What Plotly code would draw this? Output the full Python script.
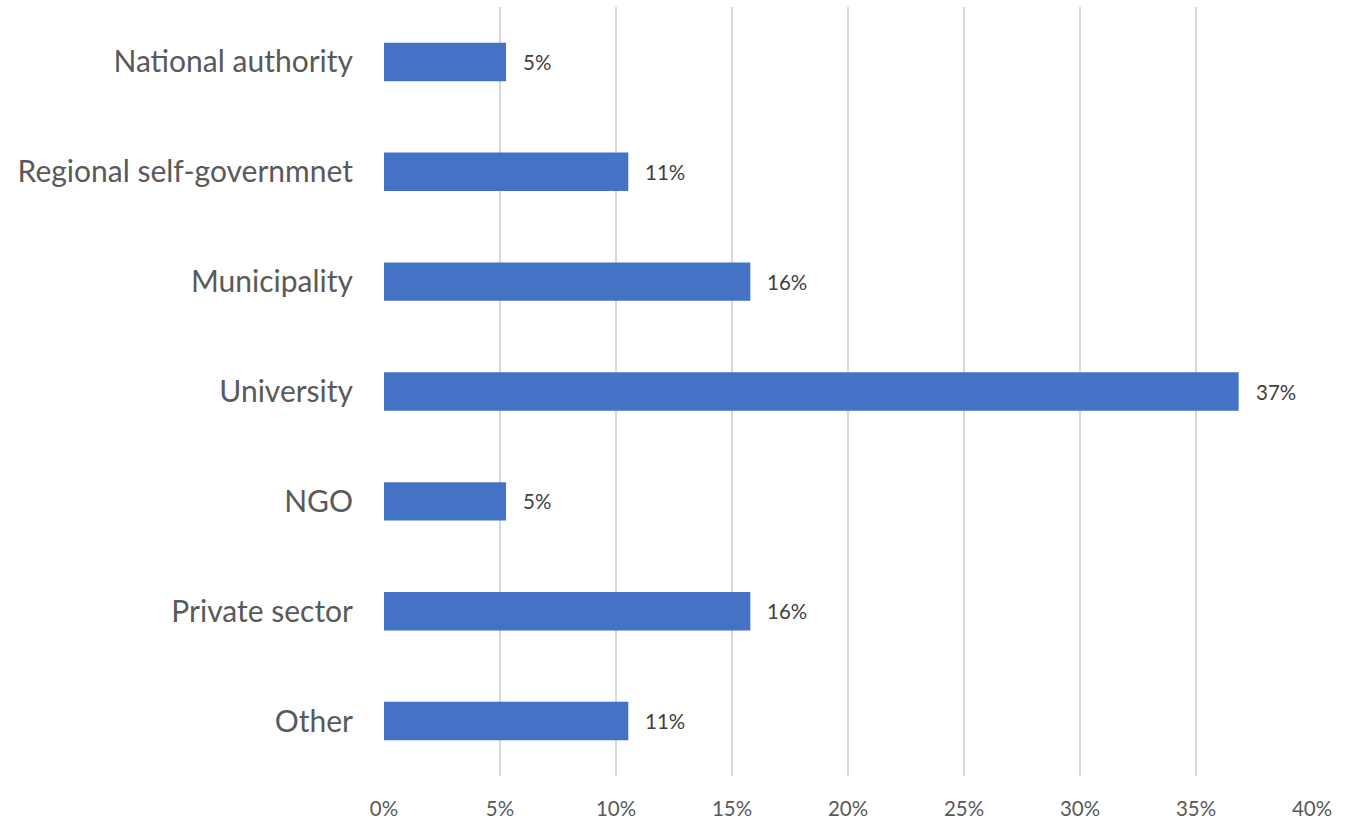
import plotly.graph_objects as go

categories = ["National authority", "Regional self-governmnet", "Municipality", "University", "NGO", "Private sector", "Other"]
values = [5.26, 10.53, 15.79, 36.84, 5.26, 15.79, 10.53]
labels = ["5%", "11%", "16%", "37%", "5%", "16%", "11%"]
tick_vals = [0, 5, 10, 15, 20, 25, 30, 35, 40]
tick_text = ["0%", "5%", "10%", "15%", "20%", "25%", "30%", "35%", "40%"]

FONT = "Lato"
TXT = "#595959"

fig = go.Figure()
fig.add_trace(go.Bar(
    y=categories, x=values, orientation="h",
    marker=dict(color="#4472C4", line=dict(width=0)),
    hoverinfo="skip",
))
for c, v, t in zip(categories, values, labels):
    fig.add_annotation(x=v, y=c, text=t, showarrow=False, xanchor="left", xshift=15,
                       font=dict(family=FONT, size=20.5, color="#404040"))

fig.update_layout(
    width=1360, height=818,
    margin=dict(l=384, r=48, t=7, b=42, autoexpand=False),
    paper_bgcolor="white", plot_bgcolor="white",
    bargap=0.65, showlegend=False,
    font=dict(family=FONT, color=TXT),
)
fig.update_xaxes(range=[0, 40], tickvals=tick_vals, ticktext=tick_text, automargin=False,
                 showgrid=True, gridcolor="#D9D9D9", gridwidth=1.5,
                 zeroline=False, showline=False, ticks="",
                 tickfont=dict(family=FONT, size=20.5, color=TXT), ticklabelstandoff=18)
fig.update_yaxes(autorange="reversed", automargin=False, showgrid=False, zeroline=False, showline=False, ticks="",
                 tickfont=dict(family=FONT, size=30, color=TXT), ticklabelstandoff=30)
fig.write_html("out.html", config={"displayModeBar": False},
               post_script="document.body.style.margin='0';document.body.style.overflow='hidden';")
